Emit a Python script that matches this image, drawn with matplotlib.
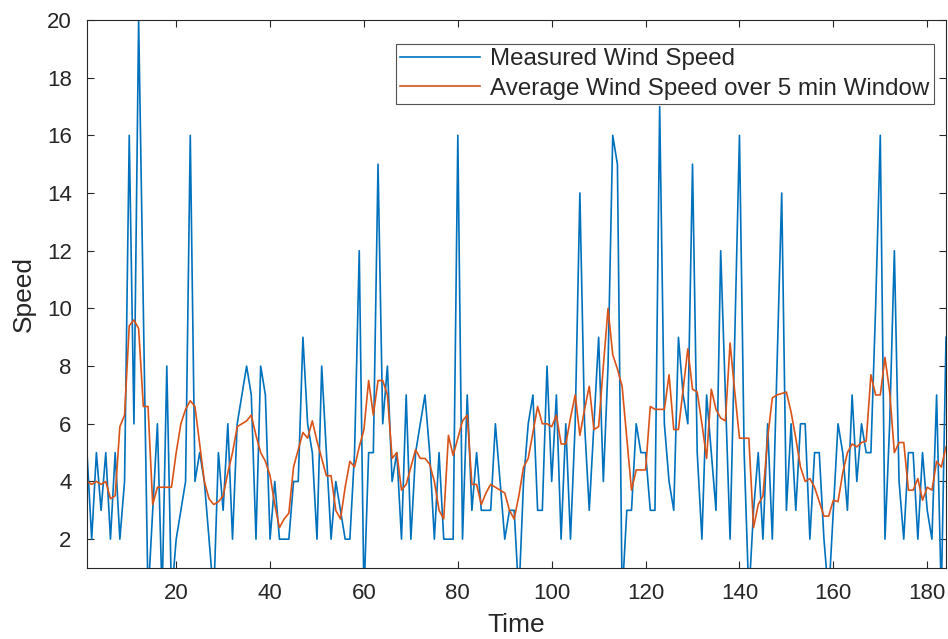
import numpy as np
import matplotlib.pyplot as plt

plt.rcParams['font.family'] = ['Liberation Sans', 'DejaVu Sans']

# measured wind speed, one sample per time step (t = 1..184)
speed = [5, 2, 5, 3, 5, 2, 5, 2, 4, 16,
         6, 20, 10, 0, 3, 6, 0, 8, 0, 2,
         3, 4, 16, 4, 5, 4, 2, 0, 5, 3,
         6, 2, 6, 7, 8, 7, 2, 8, 7, 2,
         4, 2, 2, 2, 4, 4, 9, 6, 5, 2,
         8, 5, 2, 4, 3, 2, 2, 5, 12, 0,
         5, 5, 15, 6, 8, 4, 5, 2, 7, 2,
         5, 6, 7, 5, 2, 5, 2, 2, 2, 16,
         2, 7, 3, 5, 3, 3, 3, 6, 4, 2,
         3, 3, 0, 4, 6, 7, 3, 3, 8, 4,
         7, 2, 6, 2, 6, 14, 6, 3, 6, 9,
         4, 8, 16, 15, 0, 3, 3, 6, 5, 5,
         3, 3, 17, 6, 4, 3, 9, 7, 6, 15,
         5, 2, 7, 5, 3, 12, 7, 2, 9, 16,
         5, 0, 3, 5, 2, 6, 2, 8, 14, 3,
         6, 3, 6, 6, 2, 5, 5, 2, 0, 3,
         6, 5, 3, 7, 4, 6, 5, 5, 10, 16,
         2, 6, 12, 4, 2, 5, 5, 2, 5, 3,
         2, 7, 0, 9]

# 5 min window average
avg_speed = [4.0, 3.9, 4.0, 3.9, 4.0, 3.4, 3.5, 5.9, 6.3, 9.4,
             9.6, 9.3, 6.6, 6.6, 3.2, 3.8, 3.8, 3.8, 3.8, 5.0,
             6.0, 6.5, 6.8, 6.6, 5.3, 4.0, 3.4, 3.2, 3.3, 3.5,
             4.3, 5.0, 5.9, 6.0, 6.1, 6.3, 5.6, 5.0, 4.7, 4.2,
             3.2, 2.4, 2.7, 2.9, 4.5, 5.1, 5.7, 5.5, 6.1, 5.4,
             4.8, 4.2, 4.2, 3.0, 2.7, 3.8, 4.7, 4.5, 5.2, 5.8,
             7.5, 6.3, 7.5, 7.5, 7.0, 4.8, 5.0, 3.7, 3.9, 4.5,
             5.1, 4.8, 4.8, 4.6, 4.0, 3.0, 2.7, 5.6, 4.9, 5.5,
             6.1, 6.3, 3.9, 3.9, 3.2, 3.6, 3.9, 3.8, 3.7, 3.6,
             3.0, 2.7, 3.5, 4.5, 4.8, 5.7, 6.6, 6.0, 6.0, 5.9,
             6.3, 5.3, 5.3, 6.2, 7.0, 5.6, 6.5, 7.3, 5.8, 5.9,
             8.0, 10.0, 8.4, 7.9, 7.3, 5.5, 3.7, 4.4, 4.4, 4.4,
             6.6, 6.5, 6.5, 6.5, 7.7, 5.8, 5.8, 7.2, 8.6, 7.2,
             7.1, 6.0, 4.8, 7.2, 6.5, 6.2, 6.1, 8.8, 7.1, 5.5,
             5.5, 5.5, 2.4, 3.2, 3.5, 5.5, 6.9, 7.0, 7.05, 7.1,
             6.4, 5.5, 4.5, 4.0, 4.1, 3.8, 3.3, 2.8, 2.8, 3.35,
             3.3, 4.3, 5.0, 5.3, 5.2, 5.35, 5.4, 7.7, 7.0, 7.0,
             8.3, 7.1, 5.0, 5.35, 5.35, 3.7, 3.7, 4.1, 3.35, 3.8,
             3.7, 4.7, 4.5, 5.2]

t = np.arange(1, len(speed) + 1)

fig = plt.figure(figsize=(9.48, 6.39), dpi=100)
ax = fig.add_axes([87 / 948, 71 / 639, 859 / 948, 548 / 639])

ax.plot(t, speed, color='#0072BD', lw=1.2, label='Measured Wind Speed')
ax.plot(t, avg_speed, color='#D95319', lw=1.2, label='Average Wind Speed over 5 min Window')

ax.set_xlim(1, 184)
ax.set_ylim(1, 20)
ax.set_xticks(np.arange(20, 181, 20))
ax.set_yticks(np.arange(2, 21, 2))

dark = '#262626'
ax.tick_params(direction='in', length=5, width=0.8, top=True, right=True,
               labelsize=16, colors=dark)
ax.tick_params(axis='x', pad=11)
ax.tick_params(axis='y', pad=11)
for s in ax.spines.values():
    s.set_color(dark)
    s.set_linewidth(0.8)

ax.set_xlabel('Time', fontsize=19, color=dark, labelpad=6)
ax.set_ylabel('Speed', fontsize=19, color=dark, labelpad=8)

leg = ax.legend(loc='upper right', bbox_to_anchor=(0.986, 0.957), fontsize=17.4,
                frameon=True, fancybox=False, handlelength=3.3, handletextpad=0.4,
                borderpad=0.2, labelspacing=0.3, borderaxespad=0)
leg.get_frame().set_edgecolor(dark)
leg.get_frame().set_linewidth(0.8)
for txt in leg.get_texts():
    txt.set_color(dark)

fig.savefig('out.png', dpi=100)
